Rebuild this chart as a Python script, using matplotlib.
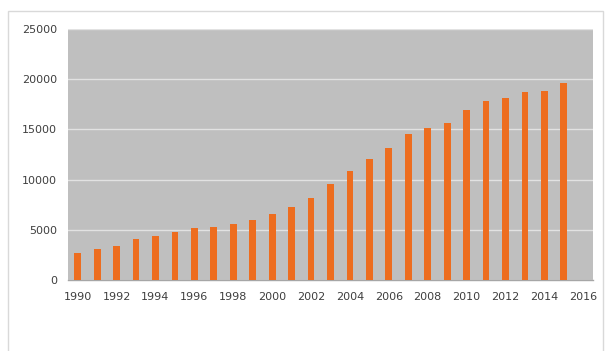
import numpy as np
import matplotlib
matplotlib.use("Agg")
import matplotlib.pyplot as plt
from matplotlib.patches import Rectangle

# category axis runs 1990..2016, the last year has no bar
years = list(range(1990, 2017))
values = [2700, 3050, 3420, 4050, 4380, 4750, 5150, 5310, 5550, 5940,
          6540, 7270, 8200, 9560, 10860, 12020, 13180, 14540, 15140, 15600,
          16960, 17860, 18100, 18730, 18860, 19650]
tick_labels = [str(y) for y in years[::2]]
yticks = [0, 5000, 10000, 15000, 20000, 25000]

bar_color = '#ED6D1F'
bg_color = '#BFBFBF'
txt_color = '#3F3F3F'

fig = plt.figure(figsize=(6.07, 3.51), dpi=100)
fig.patch.set_facecolor('white')

# light frame around the whole chart
fig.patches.append(Rectangle((8 / 607, -0.05), 595 / 607, 1 - 11 / 351 + 0.05,
                             transform=fig.transFigure, fill=False,
                             edgecolor='#D9D9D9', linewidth=1.0, zorder=0))

ax = fig.add_axes([68 / 607, 1 - 280 / 351, 525 / 607, 251 / 351])
ax.set_facecolor(bg_color)

x = np.arange(len(values))
ax.bar(x, values, width=0.35, color=bar_color, zorder=3)

ax.set_xlim(-0.5, len(years) - 0.5)
ax.set_ylim(0, 25000)
ax.set_yticks(yticks)
ax.set_yticklabels([str(v) for v in yticks])
ax.set_xticks(np.arange(0, len(years), 2))
ax.set_xticklabels(tick_labels)

ax.yaxis.grid(True, color='#E2E2E2', linewidth=1.0, zorder=1)
ax.set_axisbelow(True)
for s in ['top', 'right', 'left']:
    ax.spines[s].set_visible(False)
ax.spines['bottom'].set_color('#A6A6A6')
ax.spines['bottom'].set_linewidth(1.0)

ax.tick_params(axis='both', length=0, labelsize=8, labelcolor=txt_color)
ax.tick_params(axis='y', pad=8)
ax.tick_params(axis='x', pad=9)

fig.savefig('out.png', dpi=100)
